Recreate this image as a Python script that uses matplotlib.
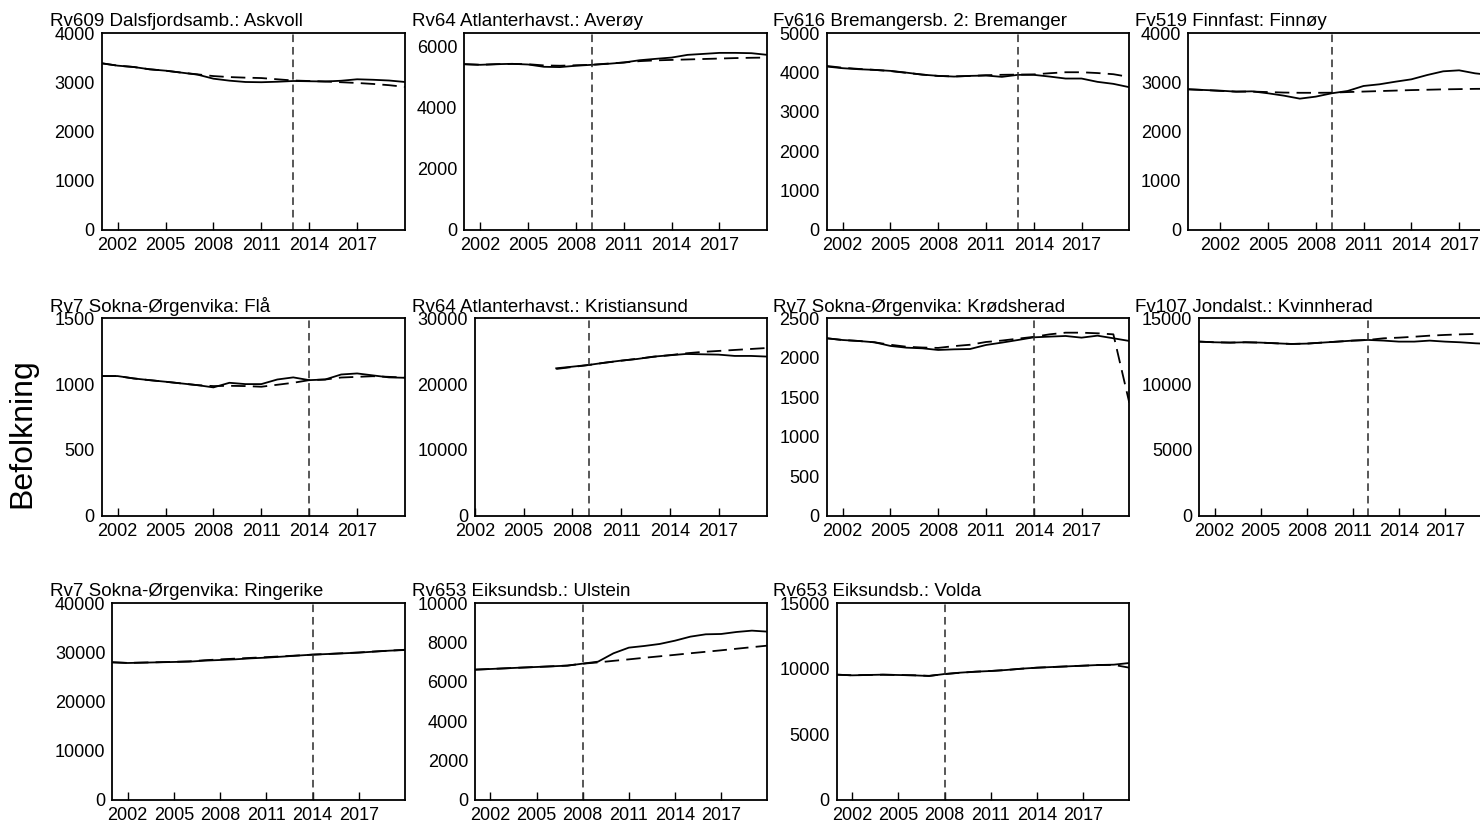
import numpy as np
import matplotlib
matplotlib.use("Agg")
import matplotlib.pyplot as plt

plt.rcParams['font.family'] = ['Liberation Sans', 'DejaVu Sans']

# ---------------- data: population, actual vs. synthetic control ----------------
titles = [
    "Rv609 Dalsfjordsamb.: Askvoll", "Rv64 Atlanterhavst.: Averøy",
    "Fv616 Bremangersb. 2: Bremanger", "Fv519 Finnfast: Finnøy",
    "Rv7 Sokna-Ørgenvika: Flå", "Rv64 Atlanterhavst.: Kristiansund",
    "Rv7 Sokna-Ørgenvika: Krødsherad", "Fv107 Jondalst.: Kvinnherad",
    "Rv7 Sokna-Ørgenvika: Ringerike", "Rv653 Eiksundsb.: Ulstein",
    "Rv653 Eiksundsb.: Volda",
]
treat_year = [2013, 2009, 2013, 2009, 2014, 2009, 2014, 2012, 2014, 2008, 2008]
first_year = [2001, 2001, 2001, 2000, 2001, 2007, 2001, 2001, 2001, 2001, 2001]
x_from = [2001, 2001, 2001, 2000, 2001, 2002, 2001, 2001, 2001, 2001, 2001]
x_to = [2020, 2020, 2020, 2019, 2020, 2020, 2020, 2020, 2020, 2020, 2020]
y_top = [4000, 6430, 5000, 4000, 1500, 30000, 2500, 15000, 40000, 10000, 15000]
y_step = [1000, 2000, 1000, 1000, 500, 10000, 500, 5000, 10000, 2000, 5000]

askvoll = [3390, 3342, 3315, 3268, 3240, 3200, 3160, 3077, 3037, 3010,
           3005, 3015, 3030, 3025, 3020, 3035, 3065, 3055, 3040, 3010]
askvoll_syn = [3390, 3342, 3315, 3268, 3240, 3200, 3165, 3130, 3110, 3098,
               3090, 3065, 3040, 3030, 3020, 3005, 2990, 2970, 2945, 2910]
averoy = [5420, 5400, 5420, 5432, 5410, 5335, 5325, 5370, 5400, 5432,
          5475, 5550, 5595, 5637, 5725, 5757, 5790, 5790, 5780, 5725]
averoy_syn = [5420, 5400, 5420, 5430, 5420, 5380, 5370, 5385, 5400, 5440,
              5475, 5520, 5545, 5560, 5575, 5590, 5605, 5620, 5630, 5637]
bremanger = [4155, 4113, 4087, 4070, 4045, 4000, 3950, 3918, 3900, 3918,
             3926, 3893, 3944, 3944, 3900, 3850, 3850, 3766, 3715, 3630]
bremanger_syn = [4170, 4125, 4095, 4070, 4040, 3995, 3950, 3915, 3905, 3915,
                 3935, 3945, 3950, 3955, 3985, 4010, 4010, 3990, 3960, 3890]
finnoy = [2861, 2847, 2834, 2813, 2820, 2780, 2732, 2671, 2712, 2780,
          2827, 2929, 2963, 3016, 3064, 3152, 3227, 3247, 3186, 3150]
finnoy_syn = [2861, 2847, 2828, 2815, 2815, 2805, 2795, 2790, 2790, 2792,
              2805, 2815, 2825, 2835, 2845, 2852, 2860, 2865, 2870, 2872]
fla = [1061, 1061, 1043, 1030, 1018, 1005, 992, 975, 1010, 1000,
       1000, 1035, 1051, 1030, 1035, 1073, 1081, 1066, 1051, 1048]
fla_syn = [1061, 1061, 1043, 1030, 1018, 1005, 992, 985, 987, 985,
           980, 995, 1010, 1030, 1035, 1050, 1055, 1060, 1055, 1050]
kristiansund = [22400, 22650, 22910, 23260, 23570, 23820, 24180,
                24380, 24580, 24530, 24480, 24280, 24280, 24180]
kristiansund_syn = [22300, 22600, 22900, 23250, 23550, 23850, 24150,
                    24400, 24680, 24890, 25040, 25190, 25340, 25490]
krodsherad = [2247, 2225, 2213, 2196, 2150, 2128, 2120, 2099, 2107, 2111,
              2162, 2192, 2225, 2259, 2268, 2276, 2255, 2280, 2247, 2213]
krodsherad_syn = [2247, 2225, 2213, 2196, 2165, 2140, 2130, 2125, 2148, 2165,
                  2200, 2218, 2242, 2265, 2297, 2318, 2318, 2310, 2297, 1430]
kvinnherad = [13228, 13178, 13153, 13178, 13153, 13100, 13050, 13077, 13153, 13228,
              13305, 13355, 13305, 13228, 13228, 13305, 13228, 13178, 13100, 13050]
kvinnherad_syn = [13228, 13178, 13153, 13178, 13153, 13100, 13050, 13077, 13153, 13228,
                  13305, 13355, 13480, 13530, 13600, 13680, 13736, 13780, 13810, 13820]
ringerike = [28000, 27860, 27930, 28000, 28070, 28140, 28340, 28470, 28610, 28810,
             28950, 29150, 29360, 29560, 29690, 29830, 29970, 30170, 30370, 30500]
ringerike_syn = [28000, 27880, 27950, 28020, 28100, 28200, 28420, 28600, 28750, 28900,
                 29050, 29220, 29380, 29560, 29700, 29850, 30000, 30200, 30380, 30550]
ulstein = [6627, 6660, 6695, 6730, 6763, 6797, 6830, 6932, 7034, 7458,
           7746, 7830, 7932, 8100, 8305, 8424, 8440, 8542, 8610, 8560]
ulstein_syn = [6627, 6660, 6695, 6730, 6763, 6797, 6835, 6930, 6995, 7075,
               7150, 7230, 7305, 7380, 7460, 7535, 7610, 7690, 7770, 7847]
volda = [9558, 9507, 9532, 9558, 9532, 9507, 9456, 9608, 9710, 9786,
         9837, 9914, 10015, 10091, 10142, 10193, 10244, 10295, 10320, 10447]
volda_syn = [9558, 9510, 9535, 9555, 9535, 9510, 9470, 9600, 9700, 9780,
             9840, 9910, 10010, 10090, 10140, 10190, 10240, 10290, 10300, 10091]

actual = [askvoll, averoy, bremanger, finnoy, fla, kristiansund,
          krodsherad, kvinnherad, ringerike, ulstein, volda]
synthetic = [askvoll_syn, averoy_syn, bremanger_syn, finnoy_syn, fla_syn, kristiansund_syn,
             krodsherad_syn, kvinnherad_syn, ringerike_syn, ulstein_syn, volda_syn]
xticks = [2002, 2005, 2008, 2011, 2014, 2017]

# ---------------- layout (pixels on a 1480x825 canvas) ----------------
W, H = 1480, 825
col_right = [405, 767.3, 1129.3, 1491]
col_text_x = [50, 412, 773, 1135]
row_top = [33.3, 318.3, 603.3]
row_bottom = [230, 515.7, 800]
row_title_y = [26, 311.5, 596.5]
axes_left = [101.7, 464.3, 826.7, 1188.3,
             101.7, 475, 826.7, 1199.3,
             112.3, 475, 836.7]

fig = plt.figure(figsize=(W / 100, H / 100), dpi=100)

for i in range(len(titles)):
    r, c = divmod(i, 4)
    left = axes_left[i]
    ax = fig.add_axes([left / W, 1 - row_bottom[r] / H,
                       (col_right[c] - left) / W, (row_bottom[r] - row_top[r]) / H])
    yrs = np.arange(first_year[i], first_year[i] + len(actual[i]))
    ax.plot(yrs, actual[i], color='black', lw=1.3, solid_joinstyle='round')
    ax.plot(yrs, synthetic[i], color='black', lw=1.3, linestyle=(0, (8, 4)))
    ax.axvline(treat_year[i], color='#2a2a2a', lw=1.1, linestyle=(0, (5, 3.2)))

    ax.set_xlim(x_from[i], x_to[i])
    ax.set_ylim(0, y_top[i])
    ax.set_xticks(xticks)
    ax.set_xticklabels([str(t) for t in xticks])
    ax.set_yticks(np.arange(0, y_top[i] + 1, y_step[i]))
    ax.tick_params(axis='x', direction='in', length=6, width=1.0, pad=5, labelsize=13)
    ax.tick_params(axis='y', length=0, pad=5, labelsize=13)
    for s in ax.spines.values():
        s.set_linewidth(1.3)

    fig.text(col_text_x[c] / W, 1 - row_title_y[r] / H, titles[i],
             fontsize=13.5, ha='left', va='baseline')

fig.text(22 / W, 1 - 433 / H, "Befolkning", rotation=90, fontsize=23,
         ha='center', va='center')

fig.savefig("out.png", dpi=100)
